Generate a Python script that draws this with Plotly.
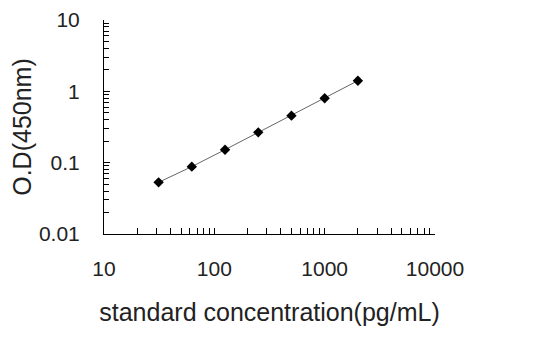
import plotly.graph_objects as go

concentration = [31.25, 62.5, 125, 250, 500, 1000, 2000]
od450 = [0.053, 0.088, 0.152, 0.266, 0.456, 0.80, 1.41]

x_tickvals = [10, 100, 1000, 10000]
x_ticktext = ["10", "100", "1000", "10000"]
y_tickvals = [0.01, 0.1, 1, 10]
y_ticktext = ["0.01", "0.1", "1", "10"]
minor_mult = [2, 3, 4, 5, 6, 7, 8, 9]
x_title = "standard concentration(pg/mL)"
y_title = "O.D(450nm)"

x_minor = [m * d for d in [10, 100, 1000] for m in minor_mult]
y_minor = [m * d for d in [0.01, 0.1, 1] for m in minor_mult]

fig = go.Figure()
fig.add_trace(go.Scatter(
    x=concentration, y=od450, mode="lines+markers",
    line=dict(color="#666666", width=1),
    marker=dict(symbol="diamond", size=8, color="black"),
    showlegend=False,
))

fig.update_layout(
    width=529, height=351,
    margin=dict(l=96, r=102, t=12, b=125),
    paper_bgcolor="white", plot_bgcolor="white",
    font=dict(family="Liberation Sans, Arial, sans-serif", size=21, color="#222222"),
)
fig.update_xaxes(
    type="log", range=[1, 4], showgrid=False, zeroline=False, automargin=False,
    showline=True, linecolor="black", linewidth=1,
    tickvals=x_tickvals, ticktext=x_ticktext,
    ticks="inside", ticklen=6, tickcolor="black",
    minor=dict(tickvals=x_minor, ticks="inside", ticklen=6, tickcolor="black", showgrid=False),
    ticklabelstandoff=16,
    title=dict(text=x_title, standoff=24),
)
fig.update_yaxes(
    type="log", range=[-2, 1], showgrid=False, zeroline=False, automargin=False,
    showline=True, linecolor="black", linewidth=1,
    tickvals=y_tickvals, ticktext=y_ticktext,
    ticks="inside", ticklen=6, tickcolor="black",
    minor=dict(tickvals=y_minor, ticks="inside", ticklen=5, tickcolor="black", showgrid=False),
    ticklabelstandoff=19,
    title=dict(text=y_title, standoff=4),
)
fig.write_html("out.html")
